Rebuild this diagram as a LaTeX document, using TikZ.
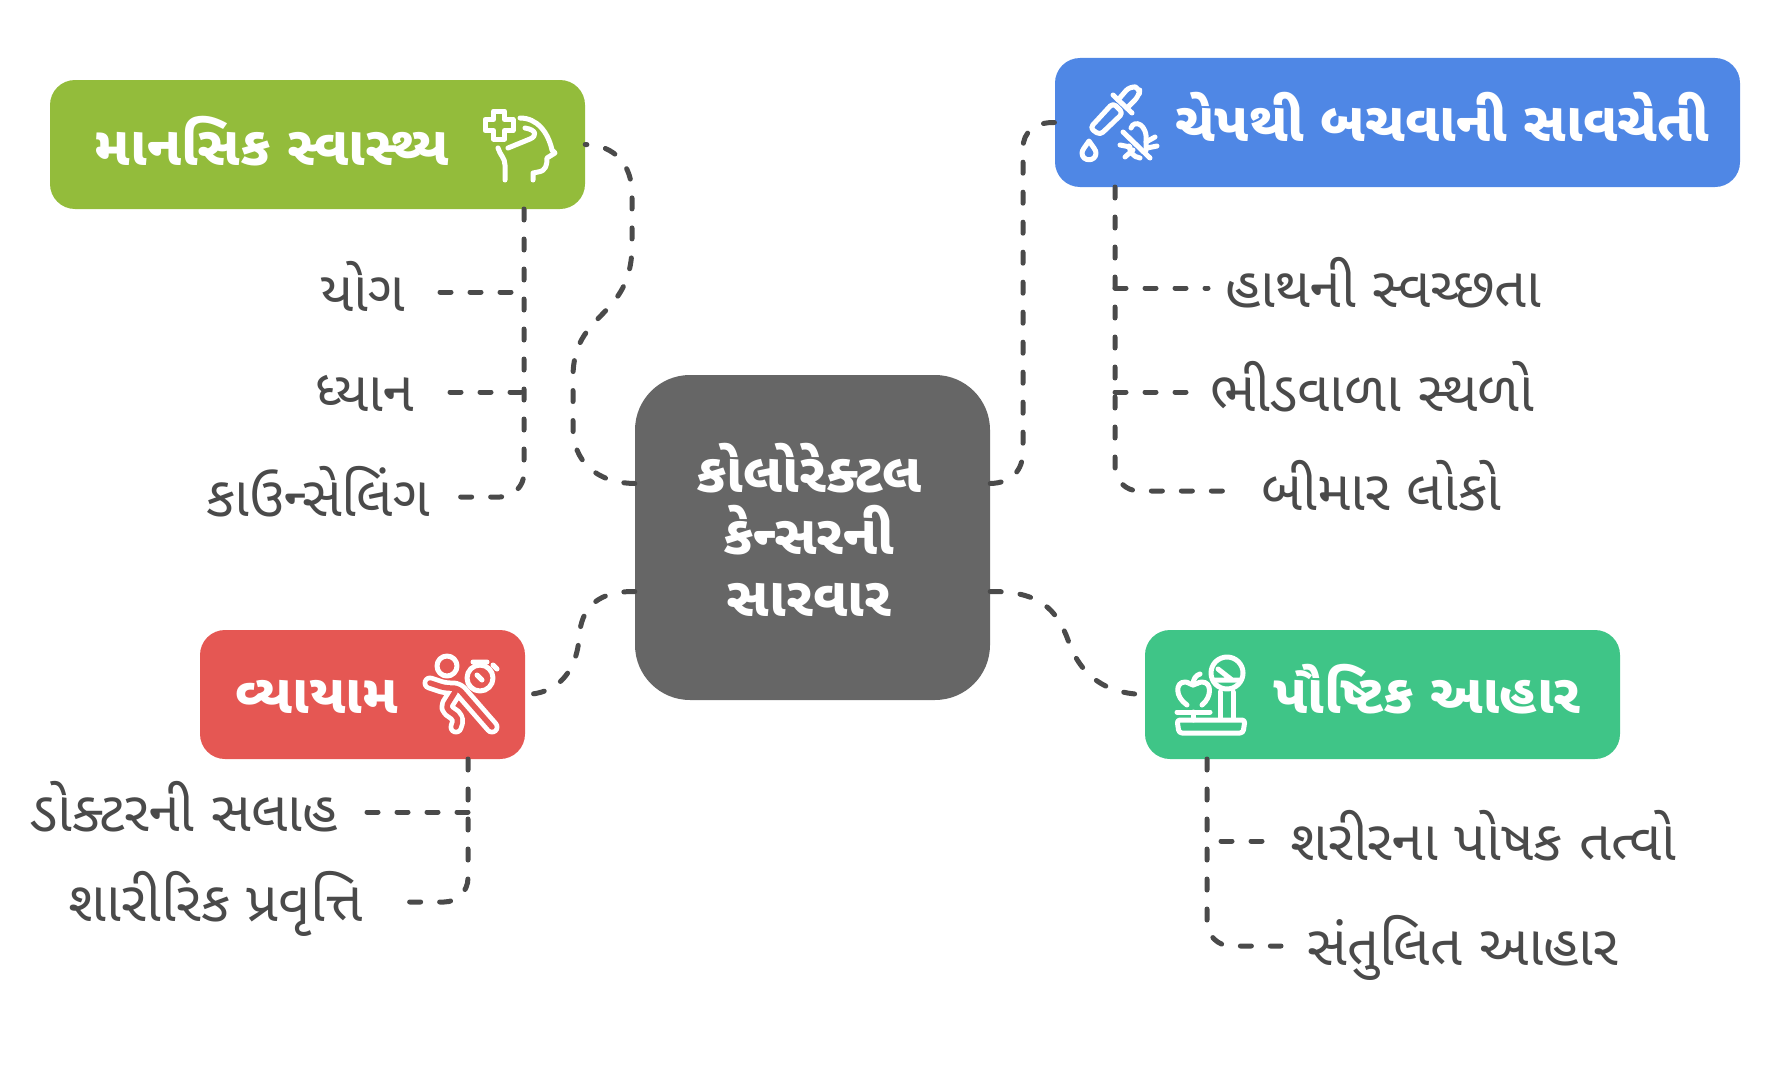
\documentclass[tikz,border=0pt]{standalone}
\usepackage{fontspec}
\usepackage{xcolor}
\newfontfamily\gujfont[Script=Gujarati]{Noto Sans Gujarati UI}
\definecolor{MindGreen}{HTML}{93BC3B}
\definecolor{GuardBlue}{HTML}{4F87E5}
\definecolor{HubGray}{HTML}{666666}
\definecolor{MoveRed}{HTML}{E55753}
\definecolor{FoodTeal}{HTML}{3FC587}
\definecolor{LinkGray}{HTML}{4A4A4A}
\tikzset{
  catbox/.style={rounded corners=25pt,minimum height=129pt,inner sep=0pt},
  title/.style={text=white,inner sep=0pt,font=\gujfont\bfseries\fontsize{55}{62}\selectfont,align=center},
  itemtext/.style={text=LinkGray,inner ysep=0pt,text height=48pt,text depth=10pt,font=\gujfont\fontsize{56}{62}\selectfont},
  link/.style={draw=LinkGray,line width=5pt,line cap=round,dash pattern=on 11pt off 19pt},
  icon/.style={draw=white,line width=5pt,line cap=round,line join=round}
}
\begin{document}
\begin{tikzpicture}[x=1pt,y=-1pt]
  \useasboundingbox (0,0) rectangle (1790,1065);
  \node[fill=HubGray,rounded corners=55pt,minimum width=355pt,minimum height=325pt,inner sep=0pt] (hub) at (812.5,537.5) {};
  \node[title] (hubtitle) at (809,530) {કોલોરેક્ટલ\\કેન્સરની\\સારવાર};
  \node[catbox,fill=MindGreen,minimum width=535pt] (mind) at (317.5,144.5) {};
  \node[catbox,fill=GuardBlue,minimum width=685pt] (guard) at (1397.5,122.5) {};
  \node[catbox,fill=MoveRed,minimum width=325pt] (move) at (362.5,694.5) {};
  \node[catbox,fill=FoodTeal,minimum width=475pt] (food) at (1382.5,694.5) {};
  \node[title,anchor=base] (mindtitle) at (272,165) {માનસિક સ્વાસ્થ્ય};
  \node[title,anchor=base] (guardtitle) at (1442,141) {ચેપથી બચવાની સાવચેતી};
  \node[title,anchor=base] (movetitle) at (317,713) {વ્યાયામ};
  \node[title,anchor=base] (foodtitle) at (1427,713) {પૌષ્ટિક આહાર};
  \foreach \nm/\x/\y/\gap/\txt in {yog/440/292/35/યોગ, dhyan/450/392/36/ધ્યાન, kauns/452/497/22/કાઉન્સેલિંગ, doctor/360/812/22/ડોક્ટરની સલાહ, activity/400/902/37/શારીરિક પ્રવૃત્તિ} {
    \node[itemtext,anchor=east,inner xsep=\gap pt] (\nm) at (\x,\y) {\txt};
  }
  \foreach \nm/\x/\y/\gap/\txt in {hands/1208/288/17/હાથની સ્વચ્છતા, crowd/1191/392/19/ભીડવાળા સ્થળો, sick/1233/491/28/બીમાર લોકો, nutri/1262/841/28/શરીરના પોષક તત્વો, balance/1281/946/26/સંતુલિત આહાર} {
    \node[itemtext,anchor=west,inner xsep=\gap pt] (\nm) at (\x,\y) {\txt};
  }
  \coordinate (mindfoot) at (524,209);
  \coordinate (guardfoot) at (1115,187);
  \coordinate (movefoot) at (468,759);
  \coordinate (foodfoot) at (1207,759);
  % hub to the four boxes
  \draw[link] ([yshift=54pt]hub.west) .. controls (595,483) and (573,460) .. (573,428) -- (573,377) .. controls (573,310) and (632,320) .. (632,245) -- (632,194) .. controls (632,165) and (615,145) .. (mind.east);
  \draw[link] ([yshift=54pt]hub.east) .. controls (1012,483) and (1023,470) .. (1023,451) -- (1023,148) .. controls (1023,132) and (1035,122) .. (guard.west);
  \draw[link] ([yshift=-54pt]hub.west) .. controls (590,591) and (580,615) .. (579,640) .. controls (575,675) and (555,694) .. (move.east);
  \draw[link] ([yshift=-54pt]hub.east) .. controls (1040,591) and (1057,610) .. (1068,640) .. controls (1080,675) and (1105,694) .. (food.west);
  % stems and branches
  \draw[link,rounded corners=24pt] (mindfoot) |- (kauns.east);
  \draw[link,rounded corners=24pt] (guardfoot) |- (sick.west);
  \draw[link,rounded corners=24pt] (movefoot) |- (activity.east);
  \draw[link,rounded corners=24pt] (foodfoot) |- (balance.west);
  \foreach \nm in {yog,dhyan} \draw[link] (\nm.east) -- (mindfoot |- \nm.east);
  \foreach \nm in {hands,crowd} \draw[link] (guardfoot |- \nm.west) -- (\nm.west);
  \draw[link] (movefoot |- doctor.east) -- (doctor.east);
  \draw[link] (nutri.west) -- (foodfoot |- nutri.west);
  % head with cross
  \draw[icon] (493.5,111) -- (504.5,111) -- (504.5,119.5) -- (513,119.5) -- (513,130.5) -- (504.5,130.5) -- (504.5,139) -- (493.5,139) -- (493.5,130.5) -- (485,130.5) -- (485,119.5) -- (493.5,119.5) -- cycle;
  \draw[icon] (520,118) .. controls (537,118) and (548,132) .. (552,150) -- (555,153) -- (547,158) .. controls (547,165) and (546,171) .. (538,172) -- (533,173) -- (533,180);
  \draw[icon] (508,148) -- (530,139) .. controls (537,136) and (537,130) .. (525,128);
  \draw[icon] (498,148) .. controls (500,155) and (505,158) .. (505,165) -- (505,180);
  % pipette and crossed bug
  \draw[icon,rounded corners=4pt] (1090,128) -- (1113,103) -- (1123,113) -- (1100,135) -- cycle;
  \draw[icon] (1113,95) -- (1132,113);
  \draw[icon,rounded corners=6pt] (1118,100) -- (1130,86) -- (1140,88) -- (1139,96) -- (1127,108);
  \draw[icon] (1089,141) .. controls (1085,147) and (1082,150) .. (1082,153) .. controls (1082,162) and (1096,162) .. (1096,153) .. controls (1096,150) and (1093,147) .. (1089,141) -- cycle;
  \draw[icon] (1123,132) -- (1150,158);
  \draw[icon] (1131,128) .. controls (1134,119) and (1148,124) .. (1146,142) .. controls (1146,148) and (1147,152) .. (1144,152);
  \draw[icon] (1129,146) .. controls (1130,152) and (1133,157) .. (1140,158);
  \draw[icon] (1146,142) -- (1155,137) (1147,148) -- (1157,146) (1130,147) -- (1120,145) (1133,150) -- (1125,157);
  % runner and stopwatch
  \foreach \wd/\col in {15pt/white,5.5pt/MoveRed} {
    \draw[line cap=round,line join=round,rounded corners=5pt,line width=\wd,draw=\col] (430,683) -- (445,688) -- (458,688) -- (492,727) (455,692) -- (445,708) -- (459,718) -- (456,727);
  }
  \draw[icon] (447,666) circle (10);
  \draw[icon] (480,678) circle (13);
  \draw[icon] (473,662) -- (487,662) (480,662) -- (480,665) (493,665) -- (497,669) (477,675) -- (482,680);
  % scale and apple
  \draw[icon] (1227,673) circle (16);
  \draw[icon] (1218,669) -- (1232,680) (1213,680) -- (1241,680);
  \draw[icon] (1220,692) -- (1220,718) (1233,692) -- (1233,718);
  \draw[icon,rounded corners=3pt] (1177,720) -- (1245,720) -- (1243,733) -- (1179,733) -- cycle;
  \draw[icon] (1177,712) -- (1210,712) (1193,712) -- (1193,720);
  \draw[icon] (1187,705) .. controls (1175,697) and (1175,682) .. (1185,682) .. controls (1189,682) and (1190,685) .. (1193,685) .. controls (1196,685) and (1198,682) .. (1202,682) .. controls (1212,682) and (1212,697) .. (1202,705);
  \draw[icon] (1193,685) .. controls (1193,679) and (1196,675) .. (1200,674);
\end{tikzpicture}
\end{document}
